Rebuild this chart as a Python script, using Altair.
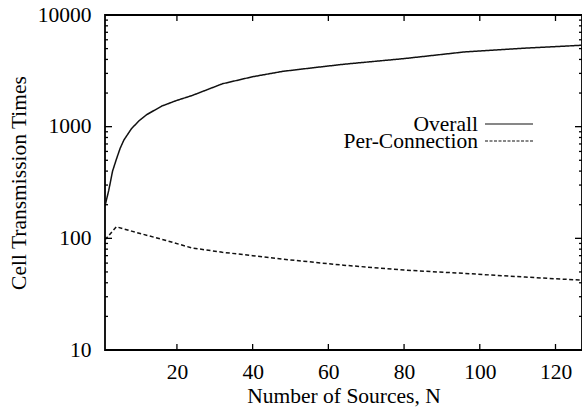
import altair as alt
import pandas as pd

# ---- data ----
overall_n = [1, 2, 3, 4, 5, 6, 8, 10, 12, 16, 20, 24, 32, 40, 48, 56, 64, 80, 96, 112, 128]
overall_v = [195, 270, 400, 510, 640, 760, 960, 1130, 1280, 1530, 1720, 1900, 2420,
             2800, 3130, 3370, 3620, 4070, 4670, 5050, 5380]
perconn_n = [1, 4, 8, 16, 24, 32, 40, 48, 64, 80, 96, 112, 128]
perconn_v = [97, 127, 116, 98, 82, 75, 70, 65, 57.5, 52, 48.5, 45, 42]

series_names = ["Overall", "Per-Connection"]
x_ticks = [20, 40, 60, 80, 100, 120]
y_major = [10, 100, 1000, 10000]
y_minor = [m * d for d in [10, 100, 1000] for m in range(2, 10)]

FONT = "Liberation Serif"
FS = 21.5
W, H = 477, 335

df = pd.concat([
    pd.DataFrame({"N": overall_n, "v": overall_v, "series": series_names[0]}),
    pd.DataFrame({"N": perconn_n, "v": perconn_v, "series": series_names[1]}),
])

xs = alt.Scale(domain=[1, 127], nice=False, zero=False)
ys = alt.Scale(type="log", domain=[10, 10000], nice=False)

lines = alt.Chart(df).mark_line(color="#111", strokeWidth=1.5, clip=True).encode(
    x=alt.X("N:Q", scale=xs, axis=alt.Axis(
        title="Number of Sources, N", values=x_ticks, ticks=False, domain=False, grid=False,
        labelFont=FONT, labelFontSize=FS, labelColor="black", labelPadding=11,
        titleFont=FONT, titleFontSize=FS, titleFontWeight="normal", titleColor="black",
        titlePadding=3)),
    y=alt.Y("v:Q", scale=ys, axis=alt.Axis(
        title="Cell Transmission Times", values=y_major, format="d", ticks=False, domain=False,
        grid=False, labelFont=FONT, labelFontSize=FS, labelColor="black", labelPadding=14,
        titleFont=FONT, titleFontSize=FS, titleFontWeight="normal", titleColor="black",
        titlePadding=7)),
    strokeDash=alt.StrokeDash("series:N", scale=alt.Scale(domain=series_names,
                              range=[[1, 0], [4, 2.5]]), legend=None),
    detail="series:N",
)

xt = pd.DataFrame({"t": x_ticks})
ymaj = pd.DataFrame({"t": y_major})
ymin = pd.DataFrame({"t": y_minor})

tick_style = dict(color="black", strokeWidth=1.3)
xt_bot = alt.Chart(xt).mark_rule(**tick_style).encode(
    x=alt.X("t:Q", scale=xs), y=alt.value(H), y2=alt.value(H - 6))
xt_top = alt.Chart(xt).mark_rule(**tick_style).encode(
    x=alt.X("t:Q", scale=xs), y=alt.value(0), y2=alt.value(6))
ymaj_l = alt.Chart(ymaj).mark_rule(**tick_style).encode(
    y=alt.Y("t:Q", scale=ys), x=alt.value(0), x2=alt.value(7))
ymaj_r = alt.Chart(ymaj).mark_rule(**tick_style).encode(
    y=alt.Y("t:Q", scale=ys), x=alt.value(W), x2=alt.value(W - 7))
ymin_l = alt.Chart(ymin).mark_rule(**tick_style).encode(
    y=alt.Y("t:Q", scale=ys), x=alt.value(0), x2=alt.value(3))
ymin_r = alt.Chart(ymin).mark_rule(**tick_style).encode(
    y=alt.Y("t:Q", scale=ys), x=alt.value(W), x2=alt.value(W - 3))

# custom legend: label left of sample line
leg = pd.DataFrame({"series": series_names})
leg_items = []
for i, name in enumerate(series_names):
    sub = alt.Chart(leg).transform_filter(alt.datum.series == name)
    ty = 110 + i * 17
    leg_items.append(sub.mark_text(align="right", baseline="middle", font=FONT,
                                   fontSize=FS, color="black").encode(
        text="series:N", x=alt.value(373), y=alt.value(ty)))
    leg_items.append(sub.mark_rule(color="#111", strokeWidth=1.2,
                                   strokeDash=[1, 0] if i == 0 else [3, 1.5]).encode(
        x=alt.value(380), x2=alt.value(428), y=alt.value(ty - 1)))

chart = alt.layer(lines, xt_bot, xt_top, ymaj_l, ymaj_r, ymin_l, ymin_r, *leg_items).properties(
    width=W, height=H,
    autosize=alt.AutoSizeParams(type="none"),
    padding={"left": 105, "top": 15, "right": 0, "bottom": 60},
    background="white",
).configure_view(stroke="black", strokeWidth=1.8)

chart.save("out.html", embed_options={"renderer": "svg", "actions": False})
